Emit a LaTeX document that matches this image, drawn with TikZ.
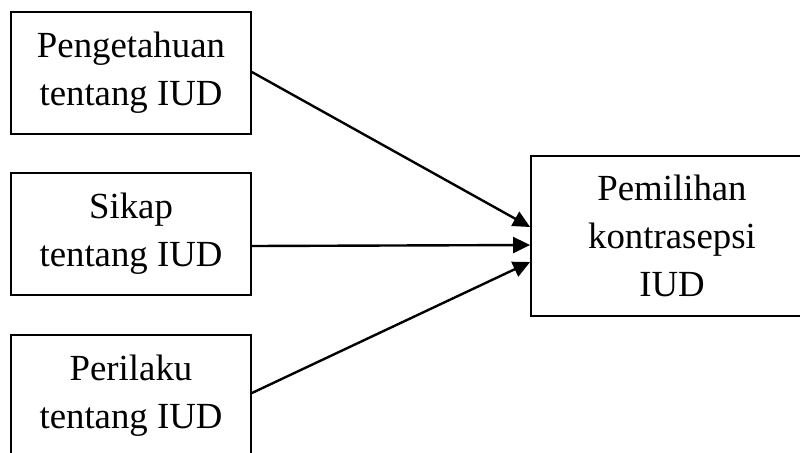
\documentclass[tikz,border=0pt]{standalone}
\usepackage{fontspec}
\setmainfont{Liberation Serif}
\usetikzlibrary{arrows.meta}
\tikzset{
  faktor/.style={draw, line width=0.9pt, inner sep=0pt, align=center,
    minimum width=120pt, minimum height=61pt,
    font=\fontsize{18.4pt}{24pt}\selectfont},
  hasil/.style={faktor, minimum width=141pt, minimum height=80pt},
  panah/.style={line width=1.2pt, -{Triangle[length=8.5pt,width=8pt]}}
}
\begin{document}
\begin{tikzpicture}[x=0.5pt, y=-0.5pt]
  \clip (0,0) rectangle (800,452);
  \fill[white] (0,0) rectangle (800,452);
  \node[faktor] (tahu) at (131, 73) {Pengetahuan\\tentang IUD};
  \node[faktor] (sikap) at (131, 234) {Sikap\\tentang IUD};
  \node[faktor] (laku) at (131, 396) {Perilaku\\tentang IUD};
  \node[hasil] (pilih) at (672, 236) {Pemilihan\\kontrasepsi\\IUD};
  \coordinate (in1) at ([yshift=4.5pt]pilih.west);
  \coordinate (in2) at ([yshift=-4.5pt]pilih.west);
  \coordinate (in3) at ([yshift=-13pt]pilih.west);
  \draw[panah] ([yshift=0.5pt]tahu.east) -- (in1);
  \draw[panah] ([yshift=-6pt]sikap.east) -- (in2);
  \draw[panah] ([yshift=1.5pt]laku.east) -- (in3);
\end{tikzpicture}
\end{document}
